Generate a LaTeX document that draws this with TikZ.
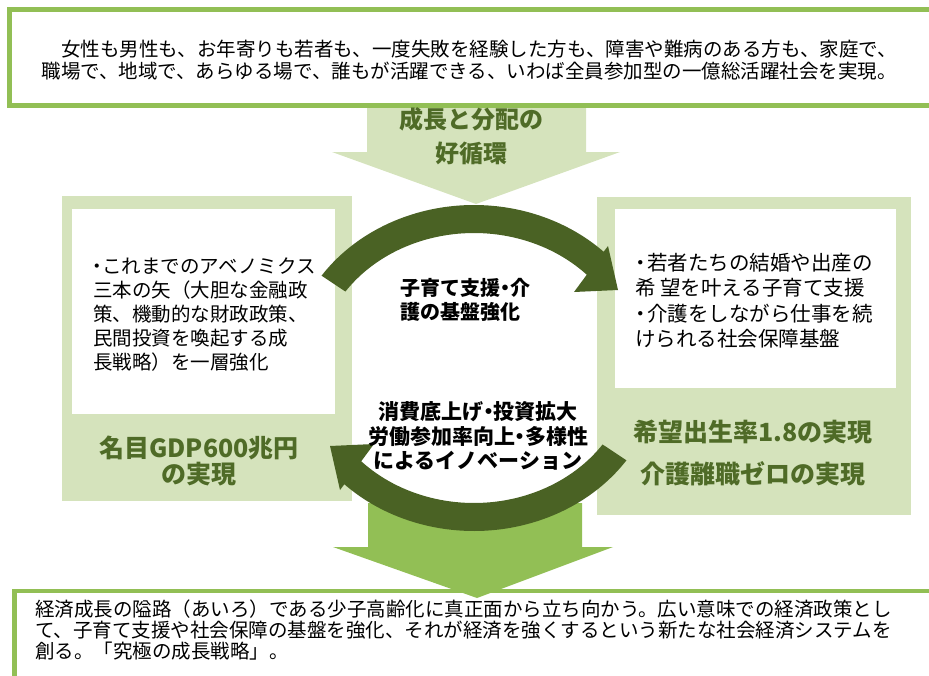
\documentclass[tikz,border=0pt]{standalone}
\usepackage{fontspec}
\setmainfont{Noto Sans CJK JP}
\definecolor{panelgreen}{HTML}{D5E3BC}
\definecolor{linegreen}{HTML}{92BF55}
\definecolor{arcgreen}{HTML}{4A6224}
\definecolor{labelgreen}{HTML}{4F6B27}
\newcommand{\mydot}[1]{\hbox to #1{\hss ・\hss}}
\tikzset{
  body/.style={inner sep=0pt, font=\fontsize{19.5}{22}\selectfont, text=black},
  bodyr/.style={inner sep=0pt, font=\fontsize{20.5}{24}\selectfont, text=black},
  glabel/.style={inner sep=0pt, font=\fontsize{25}{28}\selectfont\bfseries, text=labelgreen},
  alabel/.style={inner sep=0pt, font=\fontsize{24}{28}\selectfont\bfseries, text=labelgreen},
  ctext/.style={inner sep=0pt, font=\fontsize{20}{24}\selectfont\bfseries, text=black},
  ctextb/.style={inner sep=0pt, font=\fontsize{21}{25}\selectfont\bfseries, text=black},
  frame/.style={draw=linegreen, line width=4.5pt, fill=white},
}
\begin{document}
\begin{tikzpicture}[x=1pt,y=1pt,yscale=-1]
\useasboundingbox (0,0) rectangle (929,675);
\clip (0,0) rectangle (929,675);
% top big arrow
\fill[panelgreen] (367,100) -- (586,100) -- (586,152) -- (620,152) -- (476,204) -- (332,152) -- (367,152) -- cycle;
% top box
\draw[frame] (9.5,9.5) rectangle (960,105.5);
% side panels
\fill[panelgreen] (62,196) rectangle (352,501);
\fill[white] (72,209) rectangle (335,414);
\fill[panelgreen] (597,197) rectangle (911,515);
\fill[white] (615,209) rectangle (896,388);
% bottom box
\draw[frame] (14.7,591) rectangle (960,700);
% bottom big arrow
\fill[linegreen] (368,503) -- (582,503) -- (582,547) -- (613,547) -- (477,598) -- (333,547) -- (368,547) -- cycle;
% curved arrows
\begin{scope}[shift={(474,368)},yscale=-1]
\fill[arcgreen] (145.5:185pt and 163pt) arc[start angle=145.5,end angle=45.5,x radius=185pt,y radius=163pt]
  -- (134,122) -- (144,78) -- (100,76) -- (43.7:156pt and 135pt)
  arc[start angle=43.7,end angle=145.5,x radius=156pt,y radius=135pt] -- cycle;
\end{scope}
\begin{scope}[shift={(474,368)},yscale=-1,rotate=180]
\fill[arcgreen] (145.5:185pt and 163pt) arc[start angle=145.5,end angle=45.5,x radius=185pt,y radius=163pt]
  -- (134,122) -- (144,78) -- (100,76) -- (43.7:156pt and 135pt)
  arc[start angle=43.7,end angle=145.5,x radius=156pt,y radius=135pt] -- cycle;
\end{scope}
% top box text
\node[body, anchor=base east] (t1) at (897,56.4) {女性も男性も、お年寄りも若者も、一度失敗を経験した方も、障害や難病のある方も、家庭で、};
\node[body, anchor=base east] (t2) at (897,78.4) {職場で、地域で、あらゆる場で、誰もが活躍できる、いわば全員参加型の一億総活躍社会を実現。};
% top arrow label
\node[alabel, anchor=base] (a1) at (471,128) {成長と分配の};
\node[alabel, anchor=base] (a2) at (471,162) {好循環};
% left panel text
\node[body, anchor=base west] (l1) at (93,273.5) {\mydot{9pt}これまでのアベノミクス};
\node[body, anchor=base west] (l2) at (93,297.5) {三本の矢（大胆な金融政};
\node[body, anchor=base west] (l3) at (93,321.5) {策、機動的な財政政策、};
\node[body, anchor=base west] (l4) at (93,345.5) {民間投資を喚起する成};
\node[body, anchor=base west] (l5) at (93,369.5) {長戦略）を一層強化};
\node[glabel, anchor=base] (g1) at (199,457.5) {名目GDP600兆円};
\node[glabel, anchor=base] (g2) at (199,483) {の実現};
% right panel text
\node[bodyr, anchor=base west] (r1) at (635,270.5) {\mydot{12pt}若者たちの結婚や出産の};
\node[bodyr, anchor=base west] (r2) at (635,295.5) {希 望を叶える子育て支援};
\node[bodyr, anchor=base west] (r3) at (635,321) {\mydot{12pt}介護をしながら仕事を続};
\node[bodyr, anchor=base west] (r4) at (635,346) {けられる社会保障基盤};
\node[glabel, anchor=base] (g3) at (753,441.5) {希望出生率1.8の実現};
\node[glabel, anchor=base] (g4) at (753,483.5) {介護離職ゼロの実現};
% center texts
\node[ctext, anchor=base west] (c1) at (400,295.6) {子育て支援\mydot{10pt}介};
\node[ctext, anchor=base west] (c2) at (400,319.6) {護の基盤強化};
\node[ctextb, anchor=base] (c3) at (478,419) {消費底上げ\mydot{10pt}投資拡大};
\node[ctextb, anchor=base] (c4) at (478,444) {労働参加率向上\mydot{10pt}多様性};
\node[ctextb, anchor=base] (c5) at (478,468) {によるイノベーション};
% bottom text
\node[body, anchor=base west] (b1) at (35,616.5) {経済成長の隘路（あいろ）である少子高齢化に真正面から立ち向かう。広い意味での経済政策とし};
\node[body, anchor=base west] (b2) at (35,637.5) {て、子育て支援や社会保障の基盤を強化、それが経済を強くするという新たな社会経済システムを};
\node[body, anchor=base west] (b3) at (35,658.5) {創る。「究極の成長戦略」。};
\end{tikzpicture}
\end{document}
